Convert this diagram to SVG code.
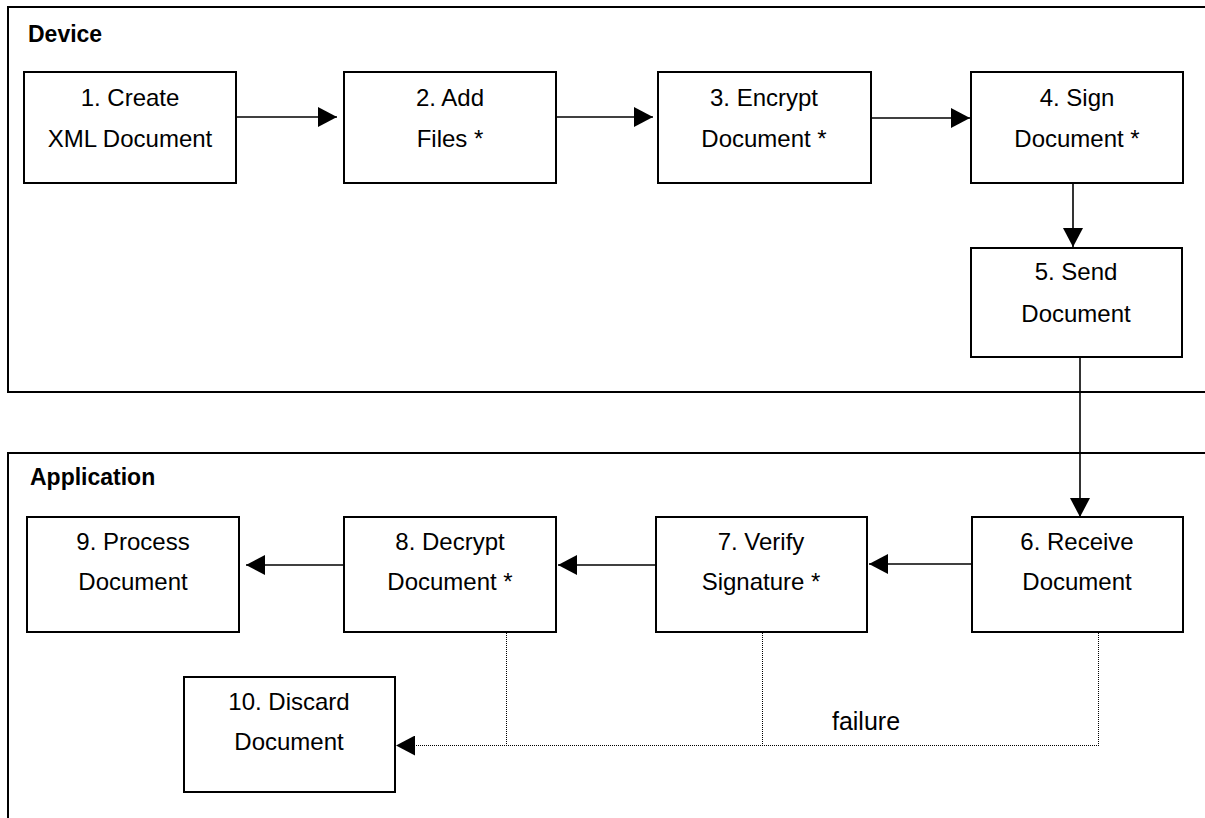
<svg xmlns="http://www.w3.org/2000/svg" width="1205" height="818" viewBox="0 0 1205 818">
<defs>
<marker id="arr" markerUnits="userSpaceOnUse" markerWidth="20" markerHeight="20" refX="19" refY="10" orient="auto">
<path d="M0,0 L19,10 L0,20 Z" fill="#000"/>
</marker>
<style>
.panel{fill:none;stroke:#000;stroke-width:2}
.box{fill:#fff;stroke:#000;stroke-width:2}
.t{font-family:"Liberation Sans",Arial,sans-serif;font-size:24px;fill:#000;text-anchor:middle}
.lbl{font-family:"Liberation Sans",Arial,sans-serif;font-size:23px;font-weight:bold;fill:#000}
.c{fill:none;stroke:#000;stroke-width:1.6}
.d{fill:none;stroke:#000;stroke-width:1;stroke-dasharray:1 1;shape-rendering:crispEdges}
</style>
</defs>
<rect width="1205" height="818" fill="#fff"/>
<g id="device-panel">
<path class="panel" d="M1206,7 H8 V392 H1206"/>
<text class="lbl" x="28" y="42">Device</text>
</g>
<g id="application-panel">
<path class="panel" d="M1206,453 H8 V819"/>
<text class="lbl" x="30" y="485">Application</text>
</g>
<g id="connectors">
<line class="c" x1="236" y1="117" x2="337" y2="117" marker-end="url(#arr)"/>
<line class="c" x1="556" y1="117" x2="653" y2="117" marker-end="url(#arr)"/>
<line class="c" x1="871" y1="118" x2="970" y2="118" marker-end="url(#arr)"/>
<line class="c" x1="1073" y1="183" x2="1073" y2="247" marker-end="url(#arr)"/>
<line class="c" x1="1080" y1="357" x2="1080" y2="517" marker-end="url(#arr)"/>
<line class="c" x1="971" y1="564" x2="869" y2="564" marker-end="url(#arr)"/>
<line class="c" x1="656" y1="565" x2="558" y2="565" marker-end="url(#arr)"/>
<line class="c" x1="344" y1="565" x2="246" y2="565" marker-end="url(#arr)"/>
<path class="d" d="M506.5,633 V745.5"/>
<path class="d" d="M762.5,633 V745.5"/>
<path class="d" d="M1098.5,633 V745.5 H414"/>
<line class="c" x1="420" y1="745.5" x2="396" y2="745.5" stroke-opacity="0" marker-end="url(#arr)"/>
<text class="t" x="866" y="730" style="font-size:25px">failure</text>
</g>
<g id="n1"><rect class="box" x="24" y="72" width="212" height="111"/><text class="t" x="130" y="106">1. Create</text><text class="t" x="130" y="147">XML Document</text></g>
<g id="n2"><rect class="box" x="344" y="72" width="212" height="111"/><text class="t" x="450" y="106">2. Add</text><text class="t" x="450" y="147">Files *</text></g>
<g id="n3"><rect class="box" x="658" y="72" width="213" height="111"/><text class="t" x="764" y="106">3. Encrypt</text><text class="t" x="764" y="147">Document *</text></g>
<g id="n4"><rect class="box" x="971" y="72" width="212" height="111"/><text class="t" x="1077" y="106">4. Sign</text><text class="t" x="1077" y="147">Document *</text></g>
<g id="n5"><rect class="box" x="971" y="248" width="211" height="109"/><text class="t" x="1076" y="280">5. Send</text><text class="t" x="1076" y="322">Document</text></g>
<g id="n6"><rect class="box" x="972" y="517" width="211" height="115"/><text class="t" x="1077" y="550">6. Receive</text><text class="t" x="1077" y="590">Document</text></g>
<g id="n7"><rect class="box" x="656" y="517" width="211" height="115"/><text class="t" x="761" y="550">7. Verify</text><text class="t" x="761" y="590">Signature *</text></g>
<g id="n8"><rect class="box" x="344" y="517" width="212" height="115"/><text class="t" x="450" y="550">8. Decrypt</text><text class="t" x="450" y="590">Document *</text></g>
<g id="n9"><rect class="box" x="27" y="517" width="212" height="115"/><text class="t" x="133" y="550">9. Process</text><text class="t" x="133" y="590">Document</text></g>
<g id="n10"><rect class="box" x="184" y="677" width="211" height="115"/><text class="t" x="289" y="710">10. Discard</text><text class="t" x="289" y="750">Document</text></g>
</svg>
